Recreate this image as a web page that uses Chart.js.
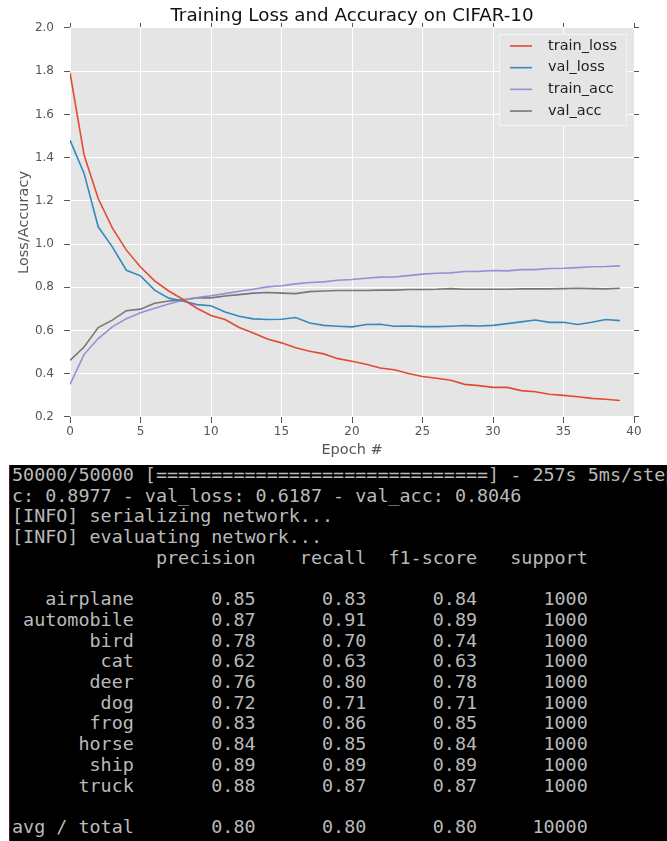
<!DOCTYPE html>
<html>
<head>
<meta charset="utf-8">
<script src="https://cdn.jsdelivr.net/npm/chart.js@4.4.0/dist/chart.umd.min.js"></script>
<style>
  html, body { margin: 0; padding: 0; background: #fff; }
  #chartBox { position: relative; width: 667px; height: 465px; }
  #term {
    position: absolute; top: 465px; left: 9px; width: 658px; height: 376px;
    background: #000; border-left: 1px solid #5a1a22; box-sizing: border-box; overflow: hidden;
  }
  #term pre {
    margin: 0; padding: 0 0 0 2px; white-space: pre;
    font-family: "DejaVu Sans Mono", monospace; font-size: 18.4px; line-height: 20.7px;
    color: #bababa;
  }
</style>
</head>
<body>
<div id="chartBox"><canvas id="lossChart" width="667" height="465"></canvas></div>
<div id="term"><pre id="log"></pre></div>

<script>
const epochs = [0, 1, 2, 3, 4, 5, 6, 7, 8, 9, 10, 11, 12, 13, 14, 15, 16, 17, 18, 19,
  20, 21, 22, 23, 24, 25, 26, 27, 28, 29, 30, 31, 32, 33, 34, 35, 36, 37, 38, 39];

const trainLoss = [1.793, 1.412, 1.211, 1.075, 0.972, 0.894, 0.830, 0.783, 0.745, 0.703,
  0.670, 0.651, 0.614, 0.589, 0.561, 0.543, 0.520, 0.504, 0.492, 0.470,
  0.458, 0.444, 0.427, 0.419, 0.401, 0.387, 0.379, 0.370, 0.351, 0.345,
  0.337, 0.337, 0.322, 0.317, 0.305, 0.300, 0.294, 0.286, 0.282, 0.276];

const valLoss = [1.481, 1.327, 1.080, 0.987, 0.879, 0.853, 0.787, 0.750, 0.737, 0.720,
  0.715, 0.686, 0.666, 0.654, 0.651, 0.652, 0.660, 0.635, 0.624, 0.620,
  0.617, 0.628, 0.629, 0.620, 0.621, 0.618, 0.618, 0.620, 0.623, 0.621,
  0.624, 0.632, 0.640, 0.649, 0.638, 0.638, 0.628, 0.638, 0.651, 0.646];

const trainAcc = [0.351, 0.490, 0.563, 0.617, 0.655, 0.682, 0.703, 0.723, 0.740, 0.753,
  0.761, 0.771, 0.782, 0.791, 0.802, 0.807, 0.816, 0.822, 0.825, 0.833,
  0.836, 0.842, 0.847, 0.848, 0.854, 0.861, 0.865, 0.867, 0.873, 0.874,
  0.878, 0.876, 0.882, 0.882, 0.887, 0.888, 0.891, 0.895, 0.896, 0.899];

const valAcc = [0.462, 0.524, 0.614, 0.648, 0.692, 0.699, 0.726, 0.737, 0.742, 0.751,
  0.751, 0.760, 0.766, 0.773, 0.776, 0.773, 0.771, 0.780, 0.783, 0.785,
  0.785, 0.785, 0.787, 0.787, 0.790, 0.790, 0.791, 0.794, 0.791, 0.791,
  0.791, 0.791, 0.793, 0.793, 0.793, 0.794, 0.796, 0.794, 0.793, 0.796];

const seriesNames = ['train_loss', 'val_loss', 'train_acc', 'val_acc'];
const seriesColors = ['#E24A33', '#348ABD', '#988ED5', '#777777'];

// classification report
const classNames = ['airplane', 'automobile', 'bird', 'cat', 'deer', 'dog', 'frog', 'horse', 'ship', 'truck'];
const precision = [0.85, 0.87, 0.78, 0.62, 0.76, 0.72, 0.83, 0.84, 0.89, 0.88];
const recall    = [0.83, 0.91, 0.70, 0.63, 0.80, 0.71, 0.86, 0.85, 0.89, 0.87];
const f1score   = [0.84, 0.89, 0.74, 0.63, 0.78, 0.71, 0.85, 0.84, 0.89, 0.87];
const support   = [1000, 1000, 1000, 1000, 1000, 1000, 1000, 1000, 1000, 1000];
const avgRow = { name: 'avg / total', p: 0.80, r: 0.80, f: 0.80, s: 10000 };

const tickFont = { family: 'DejaVu Sans', size: 12 };
const labelFont = { family: 'DejaVu Sans', size: 14.5 };

const toPoints = arr => arr.map((v, i) => ({ x: epochs[i], y: v }));

const plotBg = {
  id: 'plotBg',
  beforeDraw(chart) {
    const { ctx, chartArea: a } = chart;
    ctx.save();
    ctx.fillStyle = '#E5E5E5';
    ctx.fillRect(a.left, a.top, a.right - a.left, a.bottom - a.top);
    ctx.restore();
  }
};

const legendBox = {
  id: 'legendBox',
  afterDatasetsDraw(chart) {
    const { ctx, chartArea: a } = chart;
    const w = 128, h = 92;
    const x = a.right - 7 - w, y = a.top + 6;
    ctx.save();
    ctx.fillStyle = '#E5E5E5';
    ctx.strokeStyle = '#f4f4f4';
    ctx.lineWidth = 1;
    ctx.fillRect(x, y, w, h);
    ctx.strokeRect(x + 0.5, y + 0.5, w - 1, h - 1);
    ctx.font = '14.5px "DejaVu Sans"';
    ctx.textBaseline = 'middle';
    chart.data.datasets.forEach((ds, i) => {
      const ry = y + 12 + i * 21.7;
      ctx.strokeStyle = ds.borderColor;
      ctx.lineWidth = 1.6;
      ctx.beginPath();
      ctx.moveTo(x + 11, ry);
      ctx.lineTo(x + 33, ry);
      ctx.stroke();
      ctx.fillStyle = '#222';
      ctx.fillText(ds.label, x + 49, ry);
    });
    ctx.restore();
  }
};

new Chart(document.getElementById('lossChart'), {
  type: 'line',
  data: {
    datasets: [trainLoss, valLoss, trainAcc, valAcc].map((arr, i) => ({
      label: seriesNames[i],
      data: toPoints(arr),
      borderColor: seriesColors[i],
      borderWidth: 1.6,
      pointRadius: 0,
      tension: 0,
      fill: false
    }))
  },
  options: {
    responsive: false,
    animation: false,
    devicePixelRatio: 1,
    layout: { padding: 0 },
    plugins: {
      legend: { display: false },
      tooltip: { enabled: false },
      title: {
        display: true,
        text: 'Training Loss and Accuracy on CIFAR-10',
        fullSize: false,
        color: '#111',
        font: { family: 'DejaVu Sans', size: 18.3, weight: 'normal', lineHeight: 1.2 },
        padding: { top: 5, bottom: 1 }
      }
    },
    scales: {
      x: {
        type: 'linear', position: 'bottom', min: 0, max: 40,
        ticks: { stepSize: 5, color: '#555', font: tickFont, padding: 2, maxRotation: 0 },
        grid: { color: '#fff', lineWidth: 1, tickColor: '#555', tickLength: 6 },
        border: { display: false },
        title: { display: true, text: 'Epoch #', color: '#555', font: labelFont, padding: { top: 5.8, bottom: 5.8 } },
        afterFit: s => { s.height = 48; }
      },
      x2: {
        type: 'linear', position: 'top', min: 0, max: 40,
        ticks: { stepSize: 5, display: false },
        grid: { drawOnChartArea: false, tickColor: '#555', tickLength: 5 },
        border: { display: false },
        afterFit: s => { s.height = 0; }
      },
      y: {
        type: 'linear', position: 'left', min: 0.2, max: 2.0,
        ticks: { stepSize: 0.2, color: '#555', font: tickFont, padding: 10, callback: v => v.toFixed(1) },
        grid: { color: '#fff', lineWidth: 1, tickColor: '#555', tickLength: 6 },
        border: { display: false },
        title: { display: true, text: 'Loss/Accuracy', color: '#555', font: labelFont, padding: { top: 15.3, bottom: 15.3 } },
        afterFit: s => { s.width = 70; }
      },
      y2: {
        type: 'linear', position: 'right', min: 0.2, max: 2.0,
        ticks: { stepSize: 0.2, display: false },
        grid: { drawOnChartArea: false, tickColor: '#555', tickLength: 5 },
        border: { display: false },
        afterFit: s => { s.width = 33; }
      }
    }
  },
  plugins: [plotBg, legendBox]
});

// terminal output
const fmt = v => ' ' + v.toFixed(2).padStart(9);
const row = (name, p, r, f, s) => name.padStart(11) + ' ' + fmt(p) + fmt(r) + fmt(f) + ' ' + String(s).padStart(9);

const logLines = [
  '50000/50000 [' + '='.repeat(30) + '] - 257s 5ms/step',
  'c: 0.8977 - val_loss: 0.6187 - val_acc: 0.8046',
  '[INFO] serializing network...',
  '[INFO] evaluating network...',
  ' '.repeat(12) + ['precision', 'recall', 'f1-score', 'support'].map(h => ' ' + h.padStart(9)).join(''),
  ''
];
classNames.forEach((c, i) => logLines.push(row(c, precision[i], recall[i], f1score[i], support[i])));
logLines.push('');
logLines.push(row(avgRow.name, avgRow.p, avgRow.r, avgRow.f, avgRow.s));

document.getElementById('log').textContent = logLines.join('\n');
</script>
</body>
</html>
